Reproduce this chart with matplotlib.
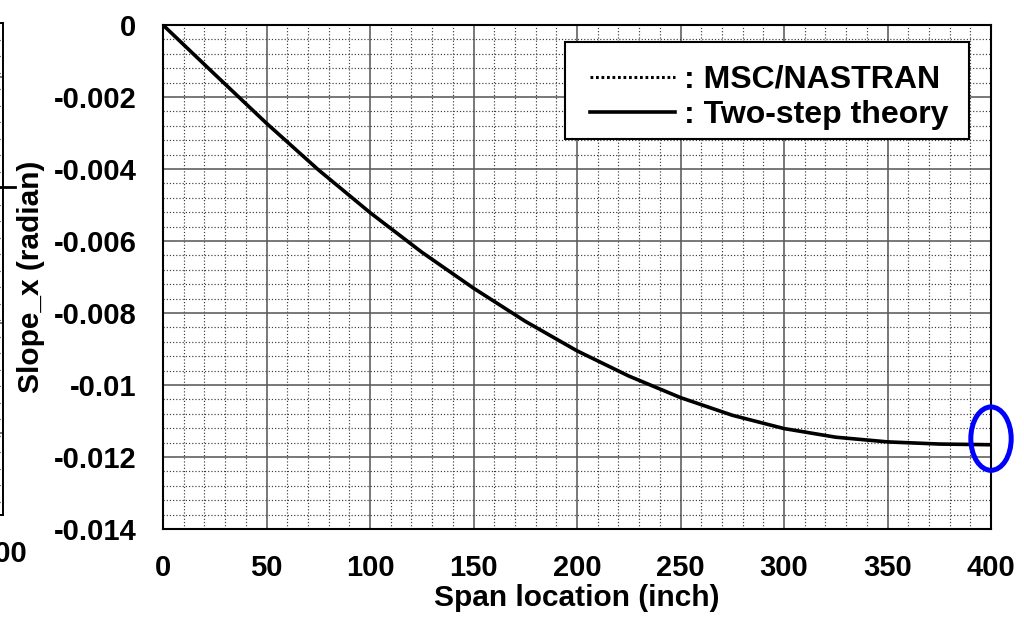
import matplotlib
matplotlib.use("Agg")
import matplotlib.pyplot as plt
from matplotlib.lines import Line2D
from matplotlib.patches import Ellipse, Rectangle
from matplotlib.ticker import MultipleLocator, FixedLocator, FixedFormatter

plt.rcParams['font.family'] = ['Liberation Sans', 'DejaVu Sans']
plt.rcParams['font.weight'] = 'bold'

# Span stations (inch) and rotation about x (radian)
span = [0, 25, 50, 75, 100, 125, 150, 175, 200, 225, 250, 275, 300, 325, 350, 375, 400]
two_step = [0.0, -0.00137, -0.00273, -0.00402, -0.00521, -0.00631, -0.00731, -0.00823,
            -0.00905, -0.00975, -0.01035, -0.01084, -0.01121, -0.01145, -0.01158,
            -0.01164, -0.01166]
nastran = [0.0, -0.00137, -0.00273, -0.00402, -0.00521, -0.00631, -0.00731, -0.00823,
           -0.00905, -0.00975, -0.01035, -0.01084, -0.01121, -0.01145, -0.01158,
           -0.01164, -0.01166]

x_ticks = [0, 50, 100, 150, 200, 250, 300, 350, 400]
y_ticks = [0, -0.002, -0.004, -0.006, -0.008, -0.010, -0.012, -0.014]
y_tick_labels = ['0', '-0.002', '-0.004', '-0.006', '-0.008', '-0.01', '-0.012', '-0.014']
legend_labels = [': MSC/NASTRAN', ': Two-step theory']

# tip of the span, highlighted
tip_x, tip_y = 400, -0.01149

W, H = 1024, 634
fig = plt.figure(figsize=(W / 100, H / 100), dpi=100)

grid_major = dict(color='#5a5a5a', linewidth=1.15, linestyle='-')
grid_minor = dict(color='#3c3c3c', linewidth=0.85, linestyle=(0, (1.0, 1.7)))

# ---- neighbouring panel, mostly outside the figure on the left ----
left_rows = [54, 300, 410]          # major rows of that panel (its own units)
left_minor_step = 16.5
axL = fig.add_axes([3 / W - 0.6, (H - 515) / H, 0.6, (515 - 23) / H])
axL.set_xlim(0, 400)
axL.set_ylim(492, 0)
axL.yaxis.set_major_locator(FixedLocator(left_rows))
axL.yaxis.set_minor_locator(MultipleLocator(left_minor_step))
axL.xaxis.set_major_locator(FixedLocator([400]))
axL.set_xticklabels(['400'])
axL.set_yticklabels([])
axL.tick_params(axis='y', which='both', length=0)
axL.tick_params(axis='x', length=0, pad=18, labelsize=21)
axL.grid(True, which='major', axis='y', **grid_major)
axL.grid(True, which='minor', axis='y', **grid_minor)
for s in axL.spines.values():
    s.set_linewidth(1.4)
axL.plot([398, 408], [164, 164], color='black', lw=2.0, clip_on=False)

# ---- main panel ----
ax = fig.add_axes([163 / W, (H - 529) / H, (991 - 163) / W, (529 - 25) / H])
ax.set_xlim(0, 400)
ax.set_ylim(-0.014, 0)
ax.xaxis.set_major_locator(FixedLocator(x_ticks))
ax.xaxis.set_minor_locator(MultipleLocator(10))
ax.yaxis.set_major_locator(FixedLocator(y_ticks))
ax.yaxis.set_major_formatter(FixedFormatter(y_tick_labels))
ax.yaxis.set_minor_locator(MultipleLocator(0.0004))
ax.grid(True, which='minor', **grid_minor)
ax.grid(True, which='major', **grid_major)
ax.set_axisbelow(True)
ax.tick_params(which='both', length=0)
ax.tick_params(axis='x', pad=18, labelsize=21)
ax.tick_params(axis='y', pad=19, labelsize=21)
for s in ax.spines.values():
    s.set_linewidth(1.5)
    s.set_zorder(5)

ax.plot(span, two_step, color='black', lw=2.6, solid_joinstyle='round', zorder=3)
ax.plot(span, nastran, color='black', lw=1.6, linestyle=(0, (1, 1.2)), zorder=3.5)

ax.set_xlabel('Span location (inch)', fontsize=21.5, fontweight='bold', labelpad=1.5)
ax.set_ylabel('Slope_x (radian)', fontsize=21.5, fontweight='bold', labelpad=6)

ell = Ellipse((tip_x, tip_y), width=19.5, height=0.00176, fill=False,
              edgecolor='#0000ff', lw=3.6, clip_on=False, zorder=6)
ax.add_patch(ell)

# legend box and its entries
box = Rectangle((565 / W, 1 - 139 / H), (969 - 565) / W, (139 - 42) / H,
                transform=fig.transFigure, facecolor='white', edgecolor='black',
                lw=1.5, clip_on=False, zorder=6)
ax.add_patch(box)

handles = [Line2D([], [], color='black', lw=2.2, linestyle=(0, (0.9, 0.9))),
           Line2D([], [], color='black', lw=2.6)]
leg = ax.legend(handles, legend_labels, loc='upper left',
                bbox_to_anchor=(590 / W, 1 - 65 / H), bbox_transform=fig.transFigure,
                borderaxespad=0, prop={'weight': 'bold', 'size': 23},
                handlelength=2.66, handletextpad=0.28, labelspacing=0.16,
                borderpad=0, frameon=False)
leg.set_zorder(7)

fig.savefig('out.png', dpi=100)
